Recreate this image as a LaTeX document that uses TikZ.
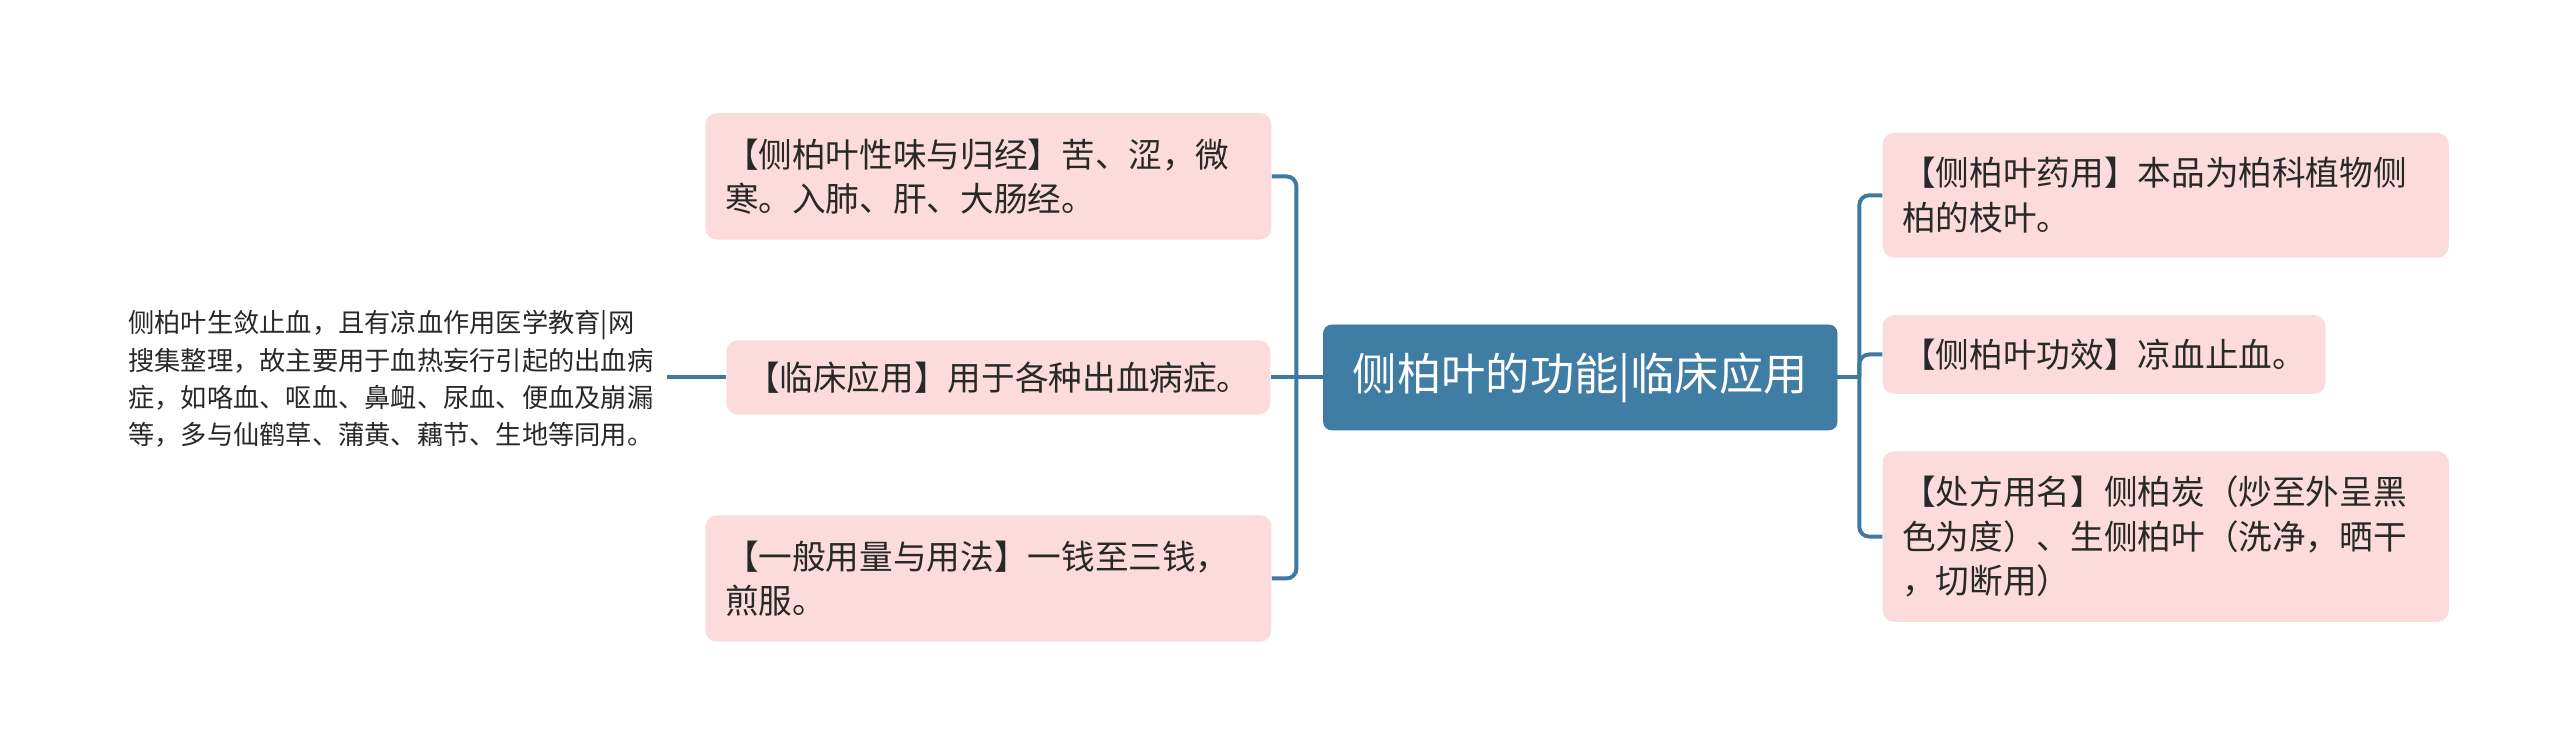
\documentclass[tikz,border=0pt]{standalone}
\usepackage{fontspec}
\setmainfont{Noto Sans CJK SC}
\usetikzlibrary{positioning}
\definecolor{rootblue}{RGB}{64,125,165}
\definecolor{linkblue}{RGB}{62,121,161}
\definecolor{leafpink}{RGB}{251,219,219}
\definecolor{inkgray}{RGB}{40,40,40}
\tikzset{
  root/.style={fill=rootblue, draw=linkblue, rounded corners=5pt, text=white,
    minimum width=313pt, minimum height=64pt, inner sep=0pt,
    font=\fontsize{27}{32}\selectfont},
  leaf/.style={fill=leafpink, rounded corners=7pt, text=inkgray, align=left,
    inner xsep=12pt, inner ysep=13pt, font=\fontsize{20.5}{27}\selectfont},
  wideleaf/.style={leaf, text width=321pt},
  note/.style={text=inkgray, align=left, inner xsep=8pt,
    font=\fontsize{16}{22.7}\selectfont},
  link/.style={draw=linkblue, line width=2.4pt, rounded corners=6pt}
}
\begin{document}
\begin{tikzpicture}[x=1pt, y=-1pt]
    \useasboundingbox (0,0) rectangle (1560,460);
    \node[root] (root) at (963,230) {侧柏叶的功能|临床应用};
    % left side
    \node[leaf, left=32pt of root] (use) {【临床应用】用于各种出血病症。};
    \node[wideleaf, anchor=east, minimum height=77pt] (taste) at (775,107.5)
        {【侧柏叶性味与归经】苦、涩，微\\寒。入肺、肝、大肠经。};
    \node[wideleaf, anchor=east, minimum height=77pt] (dose) at (775,352.5)
        {【一般用量与用法】一钱至三钱，\\煎服。};
    \node[note, anchor=west] (usenote) at (70,231)
        {侧柏叶生敛止血，且有凉血作用医学教育|网\\搜集整理，故主要用于血热妄行引起的出血病\\症，如咯血、呕血、鼻衄、尿血、便血及崩漏\\等，多与仙鹤草、蒲黄、藕节、生地等同用。};
    % right side
    \node[wideleaf, anchor=west, minimum height=76pt] (drug) at (1147,119)
        {【侧柏叶药用】本品为柏科植物侧\\柏的枝叶。};
    \node[leaf, anchor=west, minimum height=48pt] (effect) at (1147,216)
        {【侧柏叶功效】凉血止血。};
    \node[wideleaf, anchor=west, minimum height=104pt] (names) at (1147,327)
        {【处方用名】侧柏炭（炒至外呈黑\\色为度）、生侧柏叶（洗净，晒干\\，切断用）};
    \coordinate (lbus) at (790,230);
    \coordinate (rbus) at (1133,230);
    \draw[link] (root.west) -- (use.east);
    \draw[link] (taste.east) -| (lbus) |- (dose.east);
    \draw[link] (use.west) -- (usenote.east |- use.west);
    \draw[link] (root.east) -- (rbus);
    \draw[link] (drug.west) -| (rbus) |- (names.west);
    \draw[link] (rbus) |- (effect.west);
\end{tikzpicture}
\end{document}
